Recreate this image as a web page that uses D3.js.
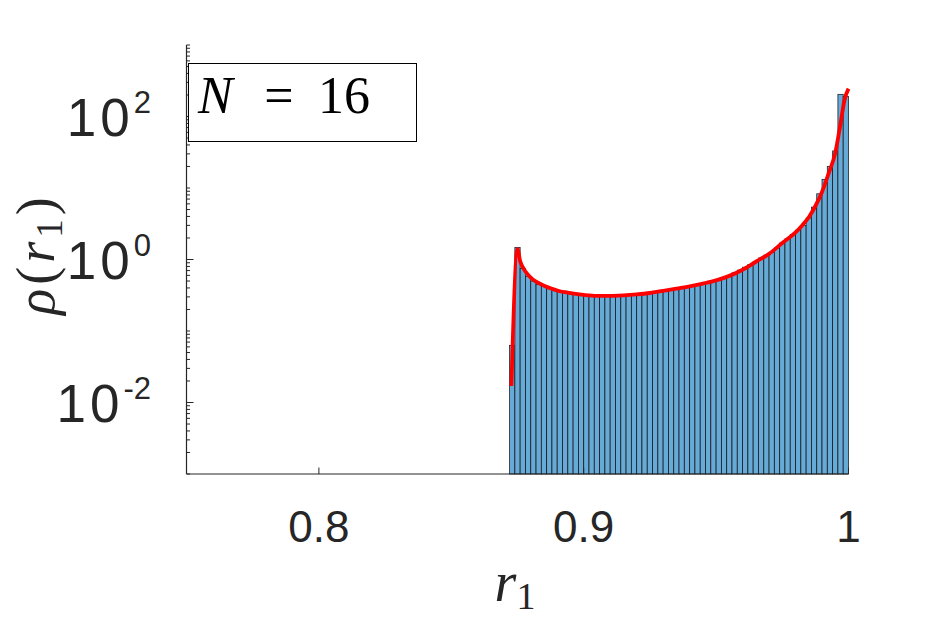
<!DOCTYPE html>
<html>
<head>
<meta charset="utf-8">
<script src="https://cdn.jsdelivr.net/npm/d3@7"></script>
<style>
  html, body { margin: 0; padding: 0; background: #fff; }
  svg { display: block; }
</style>
</head>
<body>
<svg id="chart" width="938" height="625"></svg>
<script>
// ---- data ----
const binStart = 0.872;
const binWidth = 0.002;
const binValues = [
  0.063, 1.47, 0.75, 0.58, 0.50, 0.45, 0.42, 0.39, 0.37, 0.36,
  0.345, 0.335, 0.33, 0.32, 0.32, 0.315, 0.31, 0.31, 0.31, 0.312,
  0.315, 0.318, 0.32, 0.325, 0.33, 0.335, 0.34, 0.35, 0.36, 0.37,
  0.38, 0.39, 0.40, 0.415, 0.43, 0.445, 0.46, 0.48, 0.50, 0.52,
  0.55, 0.58, 0.65, 0.71, 0.78, 0.85, 0.93, 1.05, 1.15, 1.26,
  1.45, 1.70, 1.95, 2.24, 2.57, 3.0, 3.8, 5.4, 8.3, 13.2,
  20, 33, 204, 190
];
const curveR = [
  0.8727, 0.8750, 0.8760, 0.8770, 0.8780, 0.8800, 0.8820, 0.8850, 0.8880, 0.8910,
  0.8940, 0.8970, 0.9000, 0.9050, 0.9100, 0.9150, 0.9200, 0.9250, 0.9300, 0.9350,
  0.9400, 0.9450, 0.9500, 0.9550, 0.9600, 0.9650, 0.9700, 0.9750, 0.9800, 0.9825,
  0.9850, 0.9875, 0.9900, 0.9925, 0.9950, 0.9970, 0.9985, 1.0000
];
const curveRho = [
  0.017, 1.40, 0.95, 0.78, 0.68, 0.56, 0.49, 0.43, 0.39, 0.36,
  0.345, 0.33, 0.32, 0.31, 0.31, 0.315, 0.325, 0.34, 0.365, 0.39,
  0.42, 0.46, 0.51, 0.59, 0.72, 0.93, 1.2, 1.7, 2.4, 3.0,
  3.9, 5.6, 8.8, 16, 31, 80, 170, 245
];
const xTicks = [0.8, 0.9, 1];
const xTickLabels = ["0.8", "0.9", "1"];
const yTickExps = [-2, 0, 2];
const legendLabel = "N = 16";

// ---- layout ----
const svg = d3.select("#chart");
const pL = 186.5, pR = 848.5, pT = 45, pB = 474;
const x = d3.scaleLinear().domain([0.75, 1.0]).range([pL, pR]);
const y = d3.scaleLog().domain([1e-3, 1e3]).range([pB, pT]);
const axisColor = "#262626";
const sans = "'Liberation Sans', Arial, Helvetica, sans-serif";
const serif = "'Liberation Serif', 'Times New Roman', Times, serif";

// bars
const bins = binValues.map((v, i) => ({x0: binStart + i * binWidth, x1: binStart + (i + 1) * binWidth, v}));
svg.append("g").selectAll("rect").data(bins).join("rect")
  .attr("x", d => x(d.x0))
  .attr("width", d => x(d.x1) - x(d.x0))
  .attr("y", d => y(d.v))
  .attr("height", d => pB - y(d.v))
  .attr("fill", "#66aad7")
  .attr("stroke", "#111")
  .attr("stroke-opacity", 0.9)
  .attr("stroke-width", 0.8);

// red curve
const pts = curveR.map((r, i) => [r, curveRho[i]]);
svg.append("path")
  .datum(pts)
  .attr("d", d3.line().x(d => x(d[0])).y(d => y(d[1])).curve(d3.curveMonotoneX))
  .attr("fill", "none")
  .attr("stroke", "#ff0000")
  .attr("stroke-width", 3.8)
  .attr("stroke-linejoin", "round");

// axes lines
svg.append("line").attr("x1", pL).attr("x2", pL).attr("y1", pT).attr("y2", pB)
  .attr("stroke", axisColor).attr("stroke-width", 1.2);
svg.append("line").attr("x1", pL).attr("x2", pR).attr("y1", pB).attr("y2", pB)
  .attr("stroke", axisColor).attr("stroke-width", 1.2);

// y ticks (log, inward)
const yT = svg.append("g");
for (let e = -3; e < 3; e++) {
  for (let k = 1; k <= 9; k++) {
    const v = k * Math.pow(10, e);
    const major = (k === 1 && yTickExps.includes(e));
    yT.append("line")
      .attr("x1", pL).attr("x2", pL + (major ? 7 : 3.5))
      .attr("y1", y(v)).attr("y2", y(v))
      .attr("stroke", axisColor).attr("stroke-width", 1);
  }
}
yT.append("line").attr("x1", pL).attr("x2", pL + 3.5).attr("y1", y(1e3)).attr("y2", y(1e3))
  .attr("stroke", axisColor).attr("stroke-width", 1);

// y tick labels
yTickExps.forEach(e => {
  const t = svg.append("text")
    .attr("x", 151).attr("y", y(Math.pow(10, e)) + 19)
    .attr("text-anchor", "end")
    .attr("font-family", sans)
    .attr("font-size", 53)
    .attr("fill", axisColor);
  t.append("tspan").attr("letter-spacing", 4).text("10");
  t.append("tspan").attr("dy", -23).attr("font-size", 31).text(String(e));
});

// x ticks (inward)
xTicks.forEach((v, i) => {
  svg.append("line").attr("x1", x(v)).attr("x2", x(v)).attr("y1", pB).attr("y2", pB - 6.5)
    .attr("stroke", axisColor).attr("stroke-width", 1);
  svg.append("text")
    .attr("x", x(v)).attr("y", 542)
    .attr("text-anchor", "middle")
    .attr("font-family", sans)
    .attr("font-size", 44)
    .attr("fill", axisColor)
    .text(xTickLabels[i]);
});

// axis labels (LaTeX-like serif)
const xl = svg.append("text")
  .attr("x", 515).attr("y", 601)
  .attr("text-anchor", "middle")
  .attr("font-family", serif).attr("font-size", 56).attr("fill", axisColor);
xl.append("tspan").attr("font-style", "italic").text("r");
xl.append("tspan").attr("font-size", 38).attr("dy", 8).text("1");

const yl = svg.append("text")
  .attr("transform", "translate(54,254) rotate(-90)")
  .attr("text-anchor", "middle")
  .attr("font-family", serif).attr("font-size", 54).attr("letter-spacing", 4).attr("fill", axisColor);
yl.append("tspan").attr("font-style", "italic").text("ρ");
yl.append("tspan").text("(");
yl.append("tspan").attr("font-style", "italic").text("r");
yl.append("tspan").attr("font-size", 37).attr("dy", 8).text("1");
yl.append("tspan").attr("dy", -8).text(")");

// legend box
svg.append("rect").attr("x", 188.5).attr("y", 63.5).attr("width", 228).attr("height", 78)
  .attr("fill", "#fff").attr("stroke", "#000").attr("stroke-width", 1);
const parts = legendLabel.split(" ");
const lg = svg.append("g").attr("font-family", serif).attr("font-size", 52).attr("fill", "#000");
lg.append("text").attr("x", 198).attr("y", 113).attr("font-style", "italic").text(parts[0]);
lg.append("text").attr("x", 279).attr("y", 113).attr("text-anchor", "middle").text(parts[1]);
lg.append("text").attr("x", 318).attr("y", 113).text(parts[2]);
</script>
</body>
</html>
